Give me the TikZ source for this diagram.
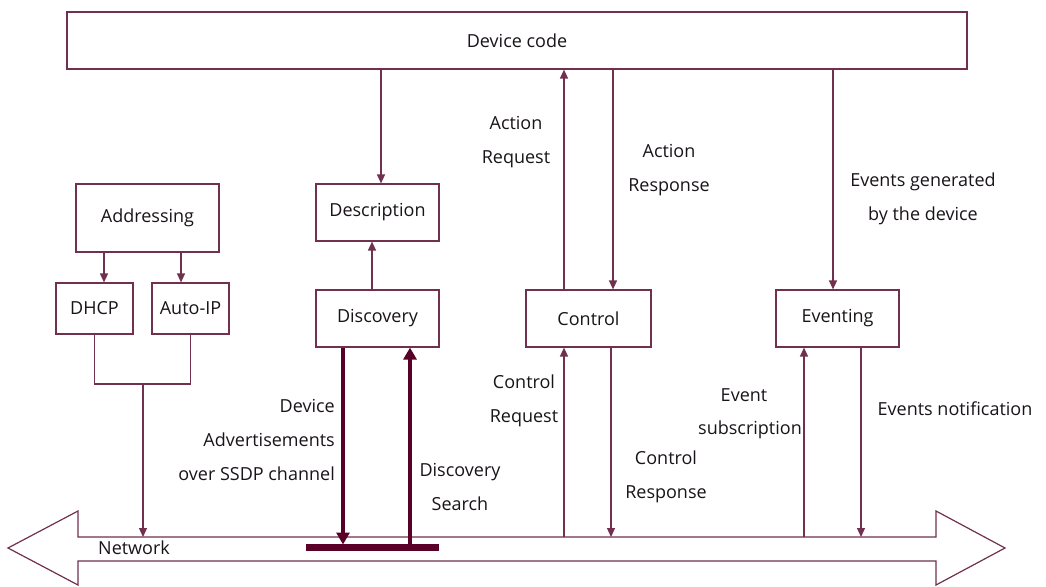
\documentclass[tikz,border=0pt]{standalone}
\usepackage{fontspec}
\setmainfont{Open Sans}
\usetikzlibrary{arrows.meta}
\definecolor{wine}{RGB}{112,48,78}
\definecolor{darkwine}{RGB}{88,0,40}
\definecolor{ink}{RGB}{25,20,25}
\begin{document}
\begin{tikzpicture}[x=1pt,y=-1pt,
  every node/.style={font=\fontsize{18}{34}\selectfont, text=ink},
  box/.style={draw=wine, line width=1.2pt, fill=white, inner sep=0pt},
  link/.style={draw=wine, line width=1.3pt},
  flow/.style={link, -{Triangle[length=9pt,width=8pt]}},
  heavy/.style={draw=darkwine, line width=4.5pt, -{Triangle[length=12pt,width=13pt]}},
  lbl/.style={align=center, inner sep=0pt}]
\useasboundingbox (0,0) rectangle (1046,586);

% network bus as a double-headed block arrow
\draw[wine, line width=1.2pt, fill=white]
  (78,537) -- (936,537) -- (936,511) -- (1005,548) -- (936,585) -- (936,561)
  -- (78,561) -- (78,585) -- (8,548) -- (78,511) -- cycle;
\node[anchor=west, inner sep=0pt] (net) at (98,548) {Network};
\coordinate (bus) at (500,537);

% boxes
\node[box, minimum width=900pt, minimum height=57pt] (dev) at (517,40.5) {Device code};
\node[box, minimum width=123pt, minimum height=57pt] (desc) at (377.5,212.5) {Description};
\node[box, minimum width=143pt, minimum height=68pt] (addr) at (147.5,218) {Addressing};
\node[box, minimum width=77pt, minimum height=51pt] (dhcp) at (94.5,308.5) {DHCP};
\node[box, minimum width=77pt, minimum height=51pt] (autoip) at (190.5,308.5) {Auto-IP};
\node[box, minimum width=123pt, minimum height=57pt] (disc) at (377.5,318.5) {Discovery};
\node[box, minimum width=125pt, minimum height=57pt] (ctrl) at (588.5,318.5) {Control};
\node[box, minimum width=123pt, minimum height=57pt] (evt) at (837.5,318.5) {Eventing};

% addressing
\draw[flow] ([xshift=-43.5pt]addr.south) -- ([xshift=-43.5pt]addr.south |- dhcp.north);
\draw[flow] ([xshift=33.5pt]addr.south) -- ([xshift=33.5pt]addr.south |- autoip.north);
\coordinate (join) at (143,384);
\draw[link] (dhcp.south) -- (dhcp.south |- join) -- (autoip.south |- join) -- (autoip.south);
\draw[flow] (join) -- (join |- bus);

% description / discovery
\draw[flow] ([xshift=3.5pt]desc.north |- dev.south) -- ([xshift=3.5pt]desc.north);
\draw[flow] ([xshift=-5.5pt]disc.north) -- ([xshift=-5.5pt]disc.north |- desc.south);
\coordinate (barL) at (306,547.5);
\coordinate (barR) at (439,547.5);
\draw[darkwine, line width=7pt] (barL) -- (barR);
\draw[heavy] ([xshift=-34.5pt]disc.south) -- ([xshift=-34.5pt,yshift=3pt]disc.south |- barL);
\draw[heavy] ([xshift=32.5pt,yshift=-3pt]disc.south |- barL) -- ([xshift=32.5pt]disc.south);

\node[lbl, align=right, anchor=east] (advlbl) at (335,439.5)
  {Device\\Advertisements\\over SSDP channel};
\node[lbl] (searchlbl) at (460,487) {Discovery\\Search};

% control
\draw[flow] ([xshift=-24.5pt]ctrl.north) -- ([xshift=-24.5pt]ctrl.north |- dev.south);
\draw[flow] ([xshift=24.5pt]ctrl.north |- dev.south) -- ([xshift=24.5pt]ctrl.north);
\draw[flow] ([xshift=-24.5pt]ctrl.south |- bus) -- ([xshift=-24.5pt]ctrl.south);
\draw[flow] ([xshift=22.5pt]ctrl.south) -- ([xshift=22.5pt]ctrl.south |- bus);

\node[lbl] (areq) at (516,142) {Action\\Request};
\node[lbl] (aresp) at (669,170) {Action\\Response};
\node[lbl] (creq) at (524,400.5) {Control\\Request};
\node[lbl] (cresp) at (666,477) {Control\\Response};

% eventing
\draw[flow] ([xshift=-4.5pt]evt.north |- dev.south) -- ([xshift=-4.5pt]evt.north);
\draw[flow] ([xshift=-33.5pt]evt.south |- bus) -- ([xshift=-33.5pt]evt.south);
\draw[flow] ([xshift=23.5pt]evt.south) -- ([xshift=23.5pt]evt.south |- bus);

\node[lbl] (egen) at (923,199) {Events generated\\by the device};
\node[lbl] (esub1) at (744,395) {Event};
\node[lbl, anchor=east] (esub2) at (802,430) {subscription};
\node[lbl] (enote) at (955,409) {Events notification};
\end{tikzpicture}
\end{document}
